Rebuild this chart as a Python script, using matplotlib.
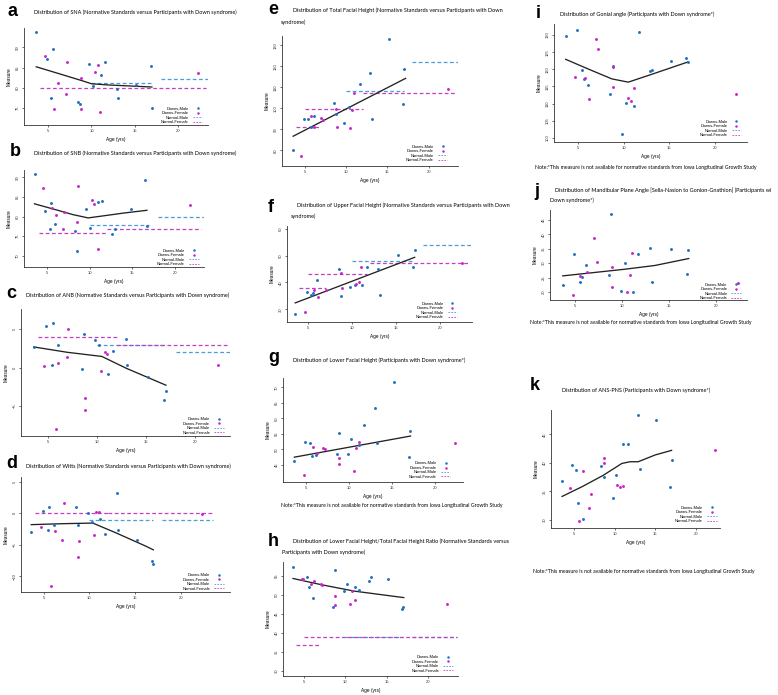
import matplotlib
matplotlib.use("Agg")
import matplotlib.pyplot as plt
from matplotlib.lines import Line2D

W, H = 778, 695

# ---------------- data (age in years, measure) ----------------
# a  SNA
sna_m_age = [3.57, 4.8, 5.35, 5.5, 8.4, 8.7, 9.75, 10.2, 11.1, 11.6, 12.9, 13.1, 15.15, 16.85, 17.0]
sna_m = [93.7, 87.1, 77.5, 89.6, 76.4, 76.0, 86.0, 80.4, 83.2, 86.3, 79.6, 77.5, 80.8, 85.3, 74.9]
sna_f_age = [4.6, 5.7, 6.1, 7.0, 7.2, 8.75, 8.8, 10.4, 10.75, 11.0, 22.3]
sna_f = [87.8, 74.7, 81.3, 78.5, 86.5, 74.8, 82.5, 83.9, 85.6, 73.9, 83.7]
sna_fit_age = [3.6, 5, 7, 9, 10, 12, 15, 17]
sna_fit = [85.2, 84.3, 83.0, 81.7, 81.0, 80.7, 80.4, 80.2]
sna_norm_m = [(10, 17, 81.1), (18, 23.5, 82.1)]
sna_norm_f = [(4, 12, 80.0), (12, 23.3, 80.0)]

# b  SNB
snb_m_age = [3.53, 4.7, 5.3, 5.4, 5.9, 8.3, 8.55, 9.55, 10.0, 10.9, 11.4, 12.6, 12.9, 14.85, 16.5, 16.7]
snb_m = [90.9, 81.5, 76.9, 83.4, 78.1, 76.3, 71.3, 82.0, 77.0, 83.7, 83.85, 75.45, 76.9, 81.9, 89.25, 77.55]
snb_f_age = [4.5, 5.5, 6.0, 6.8, 7.0, 8.55, 8.6, 10.2, 10.5, 10.9, 21.8]
snb_f = [87.4, 82.1, 80.5, 76.7, 81.1, 78.5, 87.75, 84.15, 83.25, 71.7, 83.0]
snb_fit_age = [3.5, 6, 8, 9.8, 12, 14, 16.7]
snb_fit = [83.25, 81.75, 80.5, 79.65, 80.3, 80.9, 81.6]
snb_norm_m = [(10, 17, 77.8), (18, 23.5, 79.8)]
snb_norm_f = [(4, 12, 75.7), (12, 23.0, 76.7)]

# c  ANB
anb_m_age = [3.6, 4.8, 5.4, 5.5, 6.1, 8.5, 8.7, 9.8, 10.2, 11.15, 11.65, 12.9, 13.1, 15.2, 16.8, 17.0]
anb_m = [2.7, 5.4, 0.4, 5.8, 2.9, -0.2, 4.4, 3.6, 3.0, -0.8, 2.2, 3.8, 0.4, -1.2, -4.2, -3.0]
anb_f_age = [4.65, 5.8, 6.1, 6.99, 7.1, 8.8, 8.8, 10.4, 10.8, 11.0, 22.3]
anb_f = [0.2, -8.0, 0.6, 1.4, 5.0, -4.0, -5.5, -0.5, 2.1, 1.8, 0.4]
anb_fit_age = [3.6, 7, 10.5, 13, 15, 17]
anb_fit = [2.7, 2.0, 1.46, -0.1, -1.2, -2.3]
anb_norm_m = [(10, 17, 3.0), (18, 23.5, 2.05)]
anb_norm_f = [(4, 12, 4.0), (12, 23.5, 3.0)]

# d  Witts
wit_m_age = [3.62, 4.88, 5.43, 5.6, 6.11, 8.57, 8.78, 9.87, 10.26, 11.2, 11.67, 12.97, 13.15, 15.17, 16.85, 17.0]
wit_m = [-3.0, 0.4, -2.6, 1.0, -1.8, 1.0, -1.85, 0.1, -1.3, -0.9, -3.3, 3.3, -2.6, -4.2, -7.5, -8.0]
wit_f_age = [4.7, 5.8, 6.18, 7.0, 7.16, 8.8, 8.82, 10.5, 10.77, 11.06, 22.3]
wit_f = [-2.2, -11.5, -2.8, -4.3, 1.6, -7.0, -4.4, -3.5, 0.25, 0.25, -0.1]
wit_fit_age = [3.62, 7, 10.37, 12.9, 16.15, 17.0]
wit_fit = [-1.8, -1.65, -1.55, -3.1, -5.2, -5.8]
wit_norm_m = [(10, 17, -1.0), (18, 23.5, -1.0)]
wit_norm_f = [(4, 12, 0.0), (12, 23.4, 0.0)]

# e  Total facial height
tfh_m_age = [3.6, 4.9, 5.4, 5.7, 6.1, 8.5, 8.75, 9.8, 10.3, 11.7, 12.9, 13.1, 15.2, 16.9, 17.05]
tfh_m = [80.0, 94.8, 94.8, 91.0, 96.3, 102.4, 97.5, 92.8, 100.7, 111.7, 117.0, 95.0, 133.1, 102.2, 118.8]
tfh_f_age = [4.6, 5.7, 6.1, 6.95, 7.2, 8.8, 8.9, 10.5, 10.75, 11.0, 22.3]
tfh_f = [77.4, 96.3, 91.2, 95.6, 94.4, 99.7, 91.2, 90.6, 99.1, 107.4, 109.3]
tfh_fit_age = [3.6, 10, 17.2]
tfh_fit = [86.7, 99.7, 114.3]
tfh_norm_m = [(10, 17, 108.3), (18, 23.5, 122.1)]
tfh_norm_f = [(4, 7, 91.2), (5, 12, 99.5), (12, 23.3, 107.4)]

# f  Upper facial height
ufh_m_age = [3.6, 4.9, 5.4, 5.6, 6.1, 8.55, 8.8, 9.8, 10.3, 11.15, 11.7, 12.95, 13.15, 15.2, 16.9, 17.1]
ufh_m = [28.1, 36.5, 35.2, 36.1, 41.0, 45.1, 34.9, 38.3, 39.2, 38.9, 45.7, 45.0, 35.2, 50.3, 45.7, 52.2]
ufh_f_age = [4.7, 5.7, 6.15, 7.1, 8.8, 8.9, 10.5, 10.8, 11.0, 22.4]
ufh_f = [29.2, 37.2, 34.7, 37.2, 43.5, 37.8, 39.4, 40.1, 45.7, 47.4]
ufh_fit_age = [3.6, 17.1]
ufh_fit = [32.4, 49.35]
ufh_norm_m = [(10, 17, 48.1), (18, 23.6, 54.1)]
ufh_norm_f = [(4, 7.1, 38.1), (5, 11.7, 43.25), (12, 23.4, 47.1)]

# g  Lower facial height
lfh_m_age = [3.6, 4.8, 5.4, 5.6, 6.1, 8.5, 8.75, 9.85, 10.2, 11.1, 11.7, 12.95, 13.2, 15.2, 16.9, 17.05]
lfh_m = [46.2, 52.3, 52.2, 47.9, 48.2, 48.4, 55.3, 48.4, 53.2, 51.5, 58.0, 63.2, 52.2, 71.7, 47.6, 56.0]
lfh_f_age = [4.7, 5.8, 6.2, 6.9, 7.2, 8.8, 8.8, 10.5, 10.8, 11.1, 22.3]
lfh_f = [41.8, 50.7, 48.7, 50.3, 50.2, 47.2, 45.4, 43.2, 50.3, 52.4, 52.2]
lfh_fit_age = [3.6, 17.1]
lfh_fit = [47.5, 54.3]

# h  Lower/total facial height ratio
rat_m_age = [3.67, 5.4, 5.56, 6.1, 8.5, 8.75, 9.84, 10.25, 11.2, 11.65, 12.9, 13.1, 15.15, 16.8, 17.0]
rat_m = [57.5, 54.8, 52.2, 49.3, 46.9, 56.7, 51.0, 52.8, 52.0, 51.2, 53.7, 54.8, 54.1, 46.2, 46.9]
rat_f_age = [4.7, 4.9, 5.85, 6.2, 7.0, 7.2, 8.8, 8.8, 10.5, 10.8, 11.1, 22.3]
rat_f = [54.1, 54.1, 53.0, 53.7, 52.8, 52.6, 49.7, 47.3, 47.5, 51.0, 48.6, 47.5]
rat_fit_age = [3.67, 7.1, 11.1, 17.05]
rat_fit = [54.35, 52.7, 51.0, 49.3]
rat_norm_m = [(10, 17, 39.0), (18, 23.5, 39.0)]
rat_norm_f = [(4, 7, 36.9), (5, 12, 39.0), (12, 23.5, 39.0)]

# i  Gonial angle
gon_m_age = [3.65, 4.9, 5.45, 5.6, 6.1, 8.55, 8.8, 9.85, 10.25, 11.15, 11.65, 12.9, 13.1, 15.2, 16.85, 17.0]
gon_m = [129.7, 131.5, 119.7, 117.2, 115.3, 112.8, 121.1, 101.2, 110.3, 109.4, 130.8, 119.4, 119.8, 122.35, 123.2, 122.1]
gon_f_age = [4.7, 5.8, 6.2, 7.0, 7.2, 8.8, 8.8, 10.45, 10.8, 11.1, 22.3]
gon_f = [117.8, 117.5, 111.2, 128.8, 125.9, 120.8, 114.9, 111.5, 110.7, 114.4, 112.7]
gon_fit_age = [3.65, 6.1, 8.7, 10.5, 12.7, 17.0]
gon_fit = [122.9, 120.1, 117.2, 116.25, 118.2, 122.1]

# j  Mandibular plane angle
mpa_m_age = [3.7, 4.9, 5.5, 5.7, 6.2, 8.6, 8.8, 9.9, 10.3, 11.2, 11.7, 13.0, 13.2, 15.25, 16.9, 17.05]
mpa_m = [22.3, 33.2, 23.4, 25.3, 29.2, 26.0, 46.9, 20.2, 30.2, 19.9, 33.2, 35.2, 23.4, 34.9, 26.2, 34.6]
mpa_f_age = [4.8, 5.5, 6.3, 7.05, 7.3, 8.9, 8.9, 10.5, 10.85, 11.1, 22.3]
mpa_f = [19.05, 25.5, 26.85, 38.75, 30.35, 28.5, 21.8, 20.0, 25.9, 33.6, 23.25]
mpa_fit_age = [3.7, 10.3, 13.5, 17.1]
mpa_fit = [25.6, 27.9, 29.2, 31.6]

# k  ANS-PNS
ans_m_age = [3.57, 4.8, 5.3, 5.5, 6.1, 8.4, 8.7, 9.8, 10.15, 11.1, 11.7, 12.9, 13.1, 15.15, 16.8, 17.0]
ans_m = [36.8, 39.7, 38.75, 33.0, 30.1, 39.5, 37.6, 33.8, 37.8, 43.4, 43.4, 48.4, 38.9, 47.5, 35.7, 40.5]
ans_f_age = [4.6, 5.65, 6.15, 6.9, 7.1, 8.75, 8.75, 10.35, 10.7, 11.0, 22.3]
ans_f = [35.5, 29.7, 38.55, 32.0, 34.6, 39.9, 40.85, 36.1, 35.7, 36.0, 42.2]
ans_fit_age = [3.57, 6, 8.6, 10.9, 11.9, 12.9, 15, 17]
ans_fit = [34.1, 35.8, 37.8, 39.9, 40.2, 40.2, 41.4, 42.2]

# ---------------- style ----------------
C_M = "#1f6fc0"
C_F = "#cc22cc"
C_NM = "#4d9bd6"
C_NF = "#c23fc2"
DASH = (0, (3, 2))
TXT_FONT = ["Lato", "DejaVu Sans"]
AX_FONT = ["Liberation Sans", "DejaVu Sans"]
NOTE = "Note:*This measure is not available for normative standards from Iowa Longitudinal Growth Study"

plt.rcParams["font.family"] = AX_FONT

fig = plt.figure(figsize=(W / 100, H / 100), dpi=100)


def px_axes(left, top, right, bottom):
    return fig.add_axes([left / W, 1 - bottom / H, (right - left) / W, (bottom - top) / H])


def put(x, y, s, size=4.0, **kw):
    fig.text(x / W, 1 - y / H, s, fontsize=size, family=TXT_FONT, va="center", ha="left", **kw)


def panel(rect, xlim, ylim, yticks, m_age, m_val, f_age, f_val, fit_age, fit_val,
          norm_m=(), norm_f=(), leg=(0.97, 0.01)):
    ax = px_axes(*rect)
    for a, b, v in norm_m:
        ax.plot([a, b], [v, v], color=C_NM, lw=0.9, ls=DASH)
    for a, b, v in norm_f:
        ax.plot([a, b], [v, v], color=C_NF, lw=0.9, ls=DASH)
    ax.plot(fit_age, fit_val, color="#222222", lw=0.95)
    ax.plot(m_age, m_val, "o", ms=2.1, mew=0, color=C_M)
    ax.plot(f_age, f_val, "o", ms=2.1, mew=0, color=C_F)
    ax.set_xlim(*xlim)
    ax.set_ylim(*ylim)
    ax.set_xticks([5, 10, 15, 20])
    ax.set_yticks(yticks)
    for s in ("top", "right"):
        ax.spines[s].set_visible(False)
    for s in ("left", "bottom"):
        ax.spines[s].set_linewidth(0.6)
        ax.spines[s].set_color("#333333")
    ax.tick_params(length=1.5, width=0.5, pad=1.5, labelsize=3, colors="#333333")
    ax.tick_params(axis="y", labelrotation=90)
    for t in ax.get_yticklabels():
        t.set_va("center")
    ax.set_xlabel("Age (yrs)", fontsize=3.4, labelpad=2.5)
    ax.set_ylabel("Measure", fontsize=3.4, labelpad=3)
    handles = [
        Line2D([], [], ls="none", marker="o", ms=1.8, mew=0, color=C_M),
        Line2D([], [], ls="none", marker="o", ms=1.8, mew=0, color=C_F),
        Line2D([], [], color=C_NM, lw=0.6, ls=(0, (2, 1.5))),
        Line2D([], [], color=C_NF, lw=0.6, ls=(0, (2, 1.5))),
    ]
    ax.legend(handles, ["Downs-Male", "Downs-Female", "Normal-Male", "Normal-Female"],
              loc="lower right", bbox_to_anchor=leg, fontsize=2.9, frameon=False,
              markerfirst=False, handlelength=2.4, handletextpad=1.0,
              labelspacing=0.12, borderpad=0, borderaxespad=0)
    return ax


# ---------------- column 1 ----------------
panel((24, 28, 208, 125), (2.18, 23.5), (70.8, 94.8), [75, 80, 85, 90],
      sna_m_age, sna_m, sna_f_age, sna_f, sna_fit_age, sna_fit, sna_norm_m, sna_norm_f)
panel((24, 170, 204, 267), (2.27, 23.4), (67.1, 91.9), [70, 75, 80, 85, 90],
      snb_m_age, snb_m, snb_f_age, snb_f, snb_fit_age, snb_fit, snb_norm_m, snb_norm_f)
panel((21, 309, 230, 436), (2.3, 23.5), (-8.94, 7.66), [-5, 0, 5],
      anb_m_age, anb_m, anb_f_age, anb_f, anb_fit_age, anb_fit, anb_norm_m, anb_norm_f)
panel((21, 477, 230, 592), (2.5, 25.4), (-12.5, 5.77), [-10, -5, 0, 5],
      wit_m_age, wit_m, wit_f_age, wit_f, wit_fit_age, wit_fit, wit_norm_m, wit_norm_f)

# ---------------- column 2 ----------------
panel((282, 36, 458, 166), (2.25, 23.54), (72.5, 134.5), [80, 90, 100, 110, 120, 130],
      tfh_m_age, tfh_m, tfh_f_age, tfh_f, tfh_fit_age, tfh_fit, tfh_norm_m, tfh_norm_f,
      leg=(0.94, 0.03))
panel((287, 226, 472, 322), (2.67, 23.58), (25.3, 61), [30, 40, 50, 60],
      ufh_m_age, ufh_m, ufh_f_age, ufh_f, ufh_fit_age, ufh_fit, ufh_norm_m, ufh_norm_f,
      leg=(0.92, 0.03))
panel((283, 378, 463, 482), (2.28, 23.2), (39.5, 73), [45, 50, 55, 60, 65, 70],
      lfh_m_age, lfh_m, lfh_f_age, lfh_f, lfh_fit_age, lfh_fit, leg=(0.93, 0.03))
panel((283, 562, 458, 676), (2.46, 23.6), (28.6, 58.7), [30, 35, 40, 45, 50, 55],
      rat_m_age, rat_m, rat_f_age, rat_f, rat_fit_age, rat_fit, rat_norm_m, rat_norm_f,
      leg=(0.97, 0.03))

# ---------------- column 3 ----------------
panel((554, 24, 747, 142), (2.37, 23.5), (98.8, 133.2), [100, 105, 110, 115, 120, 125, 130],
      gon_m_age, gon_m, gon_f_age, gon_f, gon_fit_age, gon_fit, leg=(0.97, 0.04))
panel((550, 210, 747, 300), (2.34, 23.3), (17.25, 48.4), [20, 25, 30, 35, 40, 45],
      mpa_m_age, mpa_m, mpa_f_age, mpa_f, mpa_fit_age, mpa_fit, leg=(0.97, 0.0))
panel((551, 410, 720, 528), (2.21, 22.94), (28.55, 49.3), [30, 35, 40, 45],
      ans_m_age, ans_m, ans_f_age, ans_f, ans_fit_age, ans_fit, leg=(0.98, 0.04))

# ---------------- panel letters, titles, notes ----------------
for x, y, s in [(8, 12, "a"), (10, 152, "b"), (6, 293, "c"), (6, 463, "d"),
                (268, 10, "e"), (268, 207, "f"), (268, 358, "g"), (268, 541, "h"),
                (536, 14, "i"), (534, 192, "j"), (530, 386, "k")]:
    fig.text(x / W, 1 - y / H, s, fontsize=13, fontweight="bold", family=AX_FONT,
             va="center", ha="left")

put(34, 12, "Distribution of SNA (Normative Standards versus Participants with Down syndrome)")
put(34, 153, "Distribution of SNB (Normative Standards versus Participants with Down syndrome)")
put(26, 295, "Distribution of ANB (Normative Standards versus Participants with Down syndrome)")
put(26, 466, "Distribution of Witts (Normative Standards versus Participants with Down syndrome)")
put(293, 10, "Distribution of Total Facial Height (Normative Standards versus Participants with Down")
put(281, 22, "syndrome)")
put(297, 205, "Distribution of Upper Facial Height (Normative Standards versus Participants with Down")
put(291, 216, "syndrome)")
put(293, 360, "Distribution of Lower Facial Height (Participants with Down syndrome*)")
put(293, 541, "Distribution of Lower Facial Height/Total Facial Height Ratio (Normative Standards versus")
put(282, 552, "Participants with Down syndrome)")
put(560, 14, "Distribution of Gonial angle (Participants with Down syndrome*)")
put(555, 190, "Distribution of Mandibular Plane Angle [Sella-Nasion to Gonion-Gnathion] (Participants wi")
put(550, 200, "Down syndrome*)")
put(562, 390, "Distribution of ANS-PNS (Participants with Down syndrome*)")

put(281, 506, NOTE, size=3.7)
put(535, 168, NOTE, size=3.7)
put(530, 322, NOTE, size=3.7)
put(533, 572, NOTE, size=3.7)

fig.savefig("out.png", dpi=100)
